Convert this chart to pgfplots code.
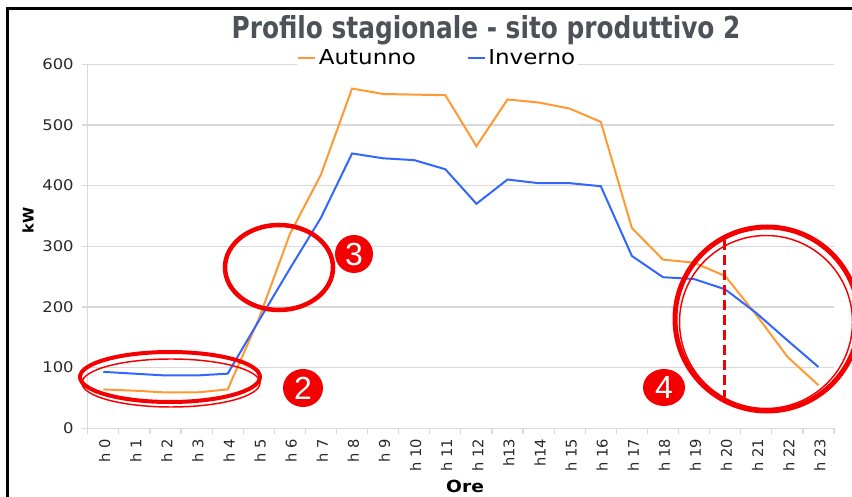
\documentclass[border=0pt]{standalone}
\usepackage{fontspec}
\setmainfont{DejaVu Sans}[FakeStretch=1.12]
\newfontfamily\titlefont{DejaVu Sans}[FakeStretch=0.82]
\newfontfamily\plainfont{DejaVu Sans}
\newfontfamily\badgefont{Liberation Sans}
\usepackage{pgfplots}
\pgfplotsset{compat=1.18}

\definecolor{autunno}{RGB}{255,153,51}
\definecolor{inverno}{RGB}{51,102,255}
\definecolor{gridgray}{RGB}{217,217,217}
\definecolor{titlegray}{RGB}{77,82,89}
\definecolor{ticktext}{RGB}{40,40,40}
\definecolor{annot}{RGB}{245,0,0}

% hourly load (kW), h0..h23
\pgfplotstableread{
h  aut  inv
0  64   93
1  62   90
2  59   87
3  59   87
4  64   90
5  180  177
6  320  263
7  418  347
8  560  453
9  551  445
10 550  442
11 549  427
12 465  370
13 542  410
14 537  404
15 527  404
16 505  399
17 330  284
18 278  249
19 273  246
20 251  229
21 187  190
22 118  145
23 71   101
}\loadtable

\begin{document}
\begin{tikzpicture}
  \useasboundingbox (0pt,0pt) rectangle (639pt,372pt);
  \begin{axis}[
      overlay,
      at={(65.8pt,50.8pt)}, anchor=south west,
      scale only axis,
      width=559.7pt, height=273pt,
      xmin=-0.5, xmax=23.5,
      ymin=0, ymax=600,
      ytick={0,100,...,600},
      xtick={-0.5,0.5,...,23.5},
      x tick label as interval,
      xticklabels={h 0,h 1,h 2,h 3,h 4,h 5,h 6,h 7,h 8,h 9,h 10,h 11,h 12,h13,h14,h 15,h 16,h 17,h 18,h 19,h 20,h 21,h 22,h 23},
      xticklabel style={rotate=90, anchor=east, yshift=-1pt, font=\plainfont\fontsize{11}{12}\selectfont, text=ticktext},
      yticklabel style={xshift=-2.5pt, font=\fontsize{11}{12}\selectfont, text=ticktext},
      /pgf/number format/assume math mode=true,
      axis x line*=bottom, axis y line*=left,
      axis line style={draw=gridgray, line width=1pt, -},
      tick align=outside,
      major tick length=4.5pt,
      tick style={draw=gridgray, line width=0.9pt},
      ymajorgrids,
      grid style={draw=gridgray, line width=1pt},
      title={Profilo stagionale - sito produttivo 2},
      title style={at={(axis description cs:0.5337,1.0714)}, anchor=base, yshift=-6pt,
        font=\titlefont\bfseries\fontsize{22.7}{24}\selectfont, text=titlegray},
      ylabel={kW},
      ylabel style={at={(axis description cs:-0.08,0.572)}, anchor=center,
        font=\plainfont\bfseries\fontsize{11}{12}\selectfont},
      xlabel={Ore},
      xlabel style={at={(axis description cs:0.5056,-0.161)}, anchor=center,
        font=\bfseries\fontsize{12.5}{13}\selectfont},
      legend columns=2,
      legend style={at={(axis description cs:0.4687,1.0173)}, anchor=center,
        draw=none, fill=white, inner sep=0pt,
        font=\fontsize{15.4}{16}\selectfont,
        /tikz/every even column/.append style={column sep=36pt}},
      legend image code/.code={\draw[#1] (0pt,0pt) -- (12.75pt,0pt);},
      every axis plot/.append style={line width=1.5pt},
    ]
    \addplot[autunno] table[x=h, y=aut] {\loadtable};
    \addlegendentry{Autunno}
    \addplot[inverno] table[x=h, y=inv] {\loadtable};
    \addlegendentry{Inverno}
  \end{axis}

  % annotations, in pixel units (origin top left)
  \begin{scope}[overlay, shift={(0pt,372pt)}, x=0.75pt, y=-0.75pt]
    \clip (0,0) rectangle (852,496);
    \draw[line width=2.25pt] (7.5,600) -- (7.5,8.5) -- (900,8.5);
    % 2
    \draw[annot, line width=3pt] (170,377) ellipse [x radius=90, y radius=25];
    \draw[annot, line width=1.1pt] (171,383) ellipse [x radius=89, y radius=24];
    \fill[annot] (303,388) ellipse [x radius=20, y radius=19];
    \node[text=white, font=\badgefont\fontsize{24}{24}\selectfont] at (303,388) {2};
    % 3
    \draw[annot, line width=3.4pt] (279,267.5) ellipse [x radius=54, y radius=42.5];
    \fill[annot] (354,254) circle [radius=19];
    \node[text=white, font=\badgefont\fontsize{24}{24}\selectfont] at (354,254) {3};
    % 4
    \draw[annot, line width=2.25pt, dash pattern=on 7.5pt off 3.75pt] (724.5,240) -- (724.5,397);
    \draw[annot, line width=3.75pt] (767,319) circle [radius=92];
    \draw[annot, line width=1.1pt] (766,322) circle [radius=86.5];
    \fill[annot] (664,387.5) ellipse [x radius=21, y radius=18.5];
    \node[text=white, font=\badgefont\fontsize{24}{24}\selectfont] at (664,387.5) {4};
  \end{scope}
\end{tikzpicture}
\end{document}
